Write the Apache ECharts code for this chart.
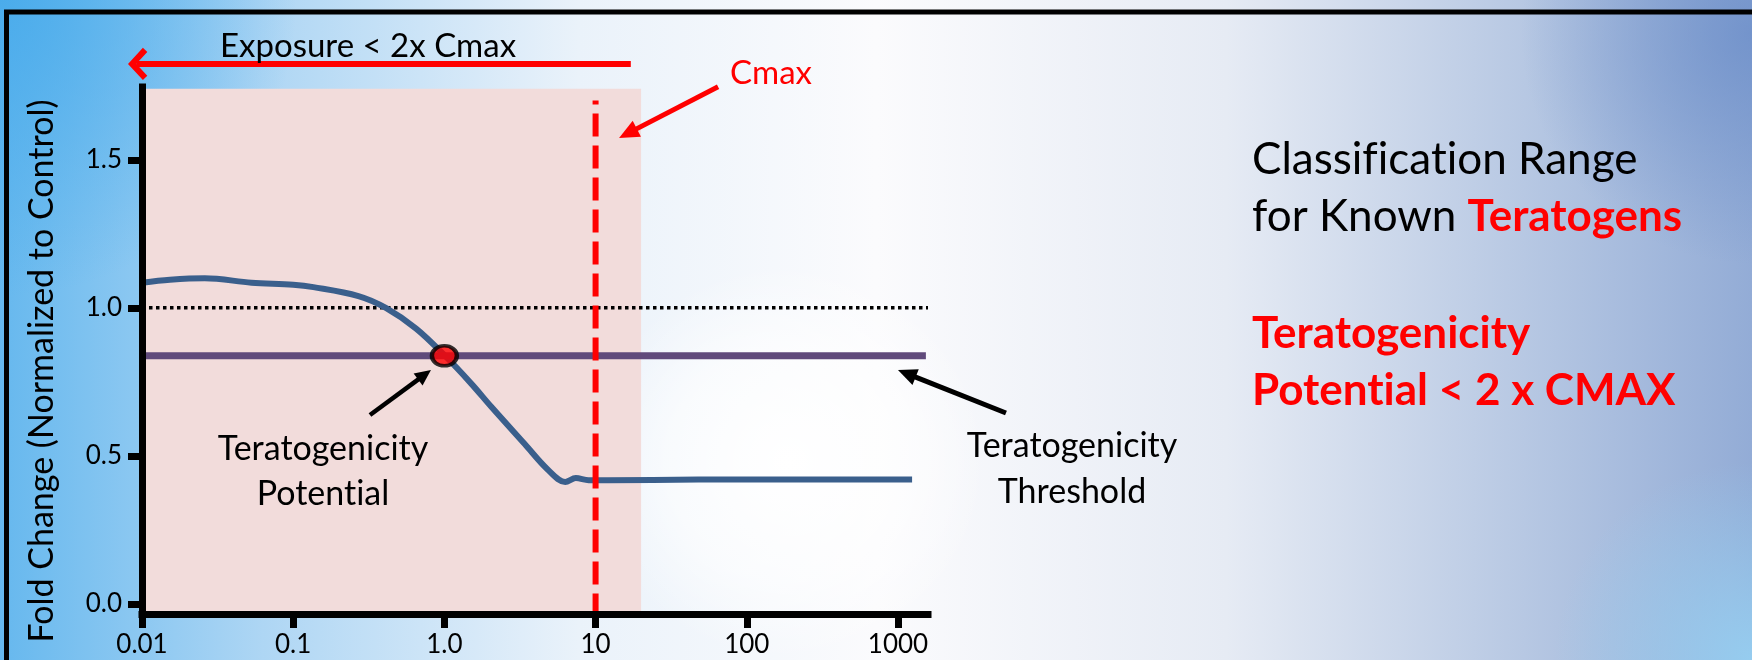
<!DOCTYPE html>
<html><head><meta charset="utf-8">
<script src="https://cdn.jsdelivr.net/npm/echarts@6/dist/echarts.min.js"></script>
<style>html,body{margin:0;padding:0;width:1752px;height:660px;overflow:hidden}#c{width:1752px;height:660px}</style>
</head><body><div id="c"></div>
<script>
// ---- data ----
const xTickValues = [0.01, 0.1, 1, 10, 100, 1000];
const xTickLabels = ['0.01', '0.1', '1.0', '10', '100', '1000'];
const yTickValues = [0, 0.5, 1.0, 1.5];
const yTickLabels = ['0.0', '0.5', '1.0', '1.5'];
const curveX = [0.01, 0.0153, 0.026, 0.053, 0.1, 0.136, 0.27, 0.41, 0.65, 1.0, 1.5, 2.05, 3.4, 4.8, 6.3, 7.4, 9.0, 12, 48, 1240];
const curveY = [1.085, 1.095, 1.10, 1.085, 1.078, 1.07, 1.04, 1.0, 0.93, 0.84, 0.745, 0.665, 0.54, 0.455, 0.412, 0.425, 0.418, 0.418, 0.42, 0.42];
const controlLevel = 1.0;
const controlExtentX = [0.01, 1580];
const thresholdLevel = 0.838;
const thresholdExtentX = [0.01, 1530];
const cmaxValue = 10;
const cmaxLineTop = 1.70;
const exposureLimit = 20;
const shadeTop = 1.74;
const potentialPoint = [1.0, 0.838];
const exposureArrow = [[17.1, 1.824], [0.0086, 1.824]];
const cmaxArrow = [[64.6, 1.747], [14.3, 1.574]];
const potentialArrow = [[0.322, 0.638], [0.815, 0.79]];
const thresholdArrow = [[5180, 0.645], [1000, 0.79]];
const yMin = -0.034, yMax = 1.746, xMin = 0.01, xMax = 1580;

// avoid "ti"/"fi" ligatures of the substitute font
(function () {
  const P = CanvasRenderingContext2D.prototype, ft = P.fillText;
  P.fillText = function () {
    try { this.textRendering = 'optimizeSpeed'; } catch (e) {}
    return ft.apply(this, arguments);
  };
})();

const FONT = 'Lato';
function nearestLabel(v, vals, labels) {
  let best = 0, bd = Infinity;
  vals.forEach((t, i) => { const d = Math.abs(Math.log10(t) - Math.log10(Math.abs(v) + 1e-12)); if (d < bd) { bd = d; best = i; } });
  return labels[best];
}
const T = (txt, x, y, font, fill, align) => ({type: 'text', silent: true, z: 50, x: x, y: y,
  style: {text: txt, font: font, fill: fill, align: align || 'center', verticalAlign: 'middle'}});

const chart = echarts.init(document.getElementById('c'), null, {renderer: 'canvas'});

chart.setOption({
  animation: false,
  graphic: [
    {type: 'rect', z: -100, silent: true, shape: {x: 0, y: 0, width: 1752, height: 660},
      style: {fill: new echarts.graphic.LinearGradient(0, 0, 1, 0, [
        {offset: 0, color: '#66b8ee'}, {offset: 0.15, color: '#aed6f4'}, {offset: 0.33, color: '#eaf2fa'},
        {offset: 0.5, color: '#fbfbfd'}, {offset: 0.7, color: '#e6ebf4'}, {offset: 0.87, color: '#b7c8e3'}, {offset: 1, color: '#93acd6'}])}},
    {type: 'rect', z: -99, silent: true, shape: {x: 0, y: 0, width: 1752, height: 660},
      style: {fill: new echarts.graphic.RadialGradient(0, 0, 0.45, [
        {offset: 0, color: 'rgba(70,170,235,0.85)'}, {offset: 1, color: 'rgba(70,170,235,0)'}])}},
    {type: 'rect', z: -99, silent: true, shape: {x: 0, y: 0, width: 1752, height: 660},
      style: {fill: new echarts.graphic.RadialGradient(1, 0.05, 0.35, [
        {offset: 0, color: 'rgba(105,140,200,0.75)'}, {offset: 1, color: 'rgba(105,140,200,0)'}])}},
    {type: 'rect', z: -99, silent: true, shape: {x: 0, y: 0, width: 1752, height: 660},
      style: {fill: new echarts.graphic.RadialGradient(1, 1, 0.3, [
        {offset: 0, color: 'rgba(150,208,242,0.9)'}, {offset: 1, color: 'rgba(150,208,242,0)'}])}},
    {type: 'rect', z: -98, silent: true, shape: {x: 0, y: 0, width: 1752, height: 660},
      style: {fill: new echarts.graphic.RadialGradient(0.45, 0.7, 0.3, [
        {offset: 0, color: 'rgba(255,255,255,1)'}, {offset: 0.6, color: 'rgba(255,255,255,0.6)'}, {offset: 1, color: 'rgba(255,255,255,0)'}])}},
    {type: 'rect', z: -90, silent: true, shape: {x: 6.5, y: 12, width: 1800, height: 800},
      style: {fill: 'none', stroke: '#000', lineWidth: 5}},
    Object.assign(T('Fold Change (Normalized to Control)', 42, 371, '34px ' + FONT, '#000'), {rotation: Math.PI / 2}),
    T('Exposure < 2x Cmax', 368, 46, '33px ' + FONT, '#000'),
    T('Cmax', 771, 73, '33px ' + FONT, '#ff0000'),
    T('Teratogenicity', 323, 449, '34px ' + FONT, '#000'),
    T('Potential', 323, 494, '34px ' + FONT, '#000'),
    T('Teratogenicity', 1072, 446, '34px ' + FONT, '#000'),
    T('Threshold', 1072, 492, '34px ' + FONT, '#000'),
    T('Classification Range', 1252, 160, '44px ' + FONT, '#000', 'left'),
    {type: 'text', silent: true, z: 50, x: 1252, y: 217,
      style: {text: '{a|for Known }{b|Teratogens}', align: 'left', verticalAlign: 'middle',
        rich: {a: {fontFamily: FONT, fontSize: 44, fill: '#000'}, b: {fontFamily: FONT, fontSize: 44, fontWeight: 'bold', fill: '#ff0000'}}}},
    T('Teratogenicity', 1252, 334, 'bold 44px ' + FONT, '#ff0000', 'left'),
    T('Potential < 2 x CMAX', 1252, 391, 'bold 44px ' + FONT, '#ff0000', 'left')
  ],
  grid: {left: 142, top: 87, width: 786, height: 527, containLabel: false},
  xAxis: {
    type: 'log', logBase: 10, min: xMin, max: xMax, z: 10,
    axisLine: {show: true, onZero: false, lineStyle: {color: '#000', width: 7, cap: 'square'}},
    axisTick: {show: true, length: 14, customValues: xTickValues, lineStyle: {color: '#000', width: 7}},
    axisLabel: {show: true, margin: 18, customValues: xTickValues, fontFamily: FONT, fontSize: 26, color: '#000',
      formatter: v => nearestLabel(v, xTickValues, xTickLabels)},
    splitLine: {show: false}, minorTick: {show: false}
  },
  yAxis: {
    type: 'value', min: yMin, max: yMax, z: 10,
    axisLine: {show: true, onZero: false, lineStyle: {color: '#000', width: 7, cap: 'square'}},
    axisTick: {show: true, length: 14, customValues: yTickValues, lineStyle: {color: '#000', width: 7}},
    axisLabel: {show: true, margin: 20, customValues: yTickValues, fontFamily: FONT, fontSize: 26, color: '#000',
      formatter: v => { const i = yTickValues.findIndex(t => Math.abs(t - v) < 1e-6); return i >= 0 ? yTickLabels[i] : v.toFixed(1); }},
    splitLine: {show: false}
  },
  series: [
    {type: 'line', z: 1, data: [], silent: true,
      markArea: {silent: true, itemStyle: {color: '#f2dcdb'},
        data: [[{coord: [xMin, shadeTop]}, {coord: [exposureLimit, yMin]}]]}},
    {type: 'line', z: 3, silent: true, showSymbol: false, data: [[controlExtentX[0], controlLevel], [controlExtentX[1], controlLevel]],
      lineStyle: {color: '#000', width: 3.5, type: [3.5, 3.5]}},
    {type: 'line', z: 4, silent: true, showSymbol: false, smooth: 0.35,
      data: curveX.map((x, i) => [x, curveY[i]]),
      lineStyle: {color: '#3a5f8c', width: 6}},
    {type: 'line', z: 5, silent: true, showSymbol: false, data: [[thresholdExtentX[0], thresholdLevel], [thresholdExtentX[1], thresholdLevel]],
      lineStyle: {color: '#604a7b', width: 7}},
    {type: 'line', z: 6, silent: true, showSymbol: false, clip: false, data: [[cmaxValue, cmaxLineTop], [cmaxValue, yMin]],
      lineStyle: {color: '#ff0000', width: 6, type: [23, 9], dashOffset: 19}},
    {type: 'scatter', z: 7, silent: true, data: [potentialPoint], symbol: 'circle', symbolSize: [25, 20],
      itemStyle: {color: '#ff0000', borderColor: '#000', borderWidth: 4}}
  ]
});

// annotation arrows, placed through the chart's own axes
const zr = chart.getZr();
function px(p) { return chart.convertToPixel({xAxisIndex: 0, yAxisIndex: 0}, p); }
function addArrow(pts, color, width, headLen, headW, open) {
  const a = px(pts[0]), b = px(pts[1]);
  const dx = b[0] - a[0], dy = b[1] - a[1], L = Math.hypot(dx, dy);
  const ux = dx / L, uy = dy / L, nx = -uy, ny = ux;
  const base = [b[0] - ux * headLen, b[1] - uy * headLen];
  const p1 = [base[0] + nx * headW / 2, base[1] + ny * headW / 2];
  const p2 = [base[0] - nx * headW / 2, base[1] - ny * headW / 2];
  const end = open ? [b[0] - ux * width * 0.7, b[1] - uy * width * 0.7] : [base[0] + ux * 2, base[1] + uy * 2];
  zr.add(new echarts.graphic.Line({z: 40, silent: true, shape: {x1: a[0], y1: a[1], x2: end[0], y2: end[1]},
    style: {stroke: color, lineWidth: width}}));
  if (open) {
    zr.add(new echarts.graphic.Polyline({z: 40, silent: true, shape: {points: [p1, b, p2]},
      style: {stroke: color, lineWidth: width, fill: null, lineJoin: 'miter'}}));
  } else {
    zr.add(new echarts.graphic.Polygon({z: 40, silent: true, shape: {points: [b, p1, p2]},
      style: {fill: color}}));
  }
}
addArrow(exposureArrow, '#ff0000', 6, 13, 28, true);
addArrow(cmaxArrow, '#ff0000', 5, 20, 18, false);
addArrow(potentialArrow, '#000', 4.5, 16, 15, false);
addArrow(thresholdArrow, '#000', 5, 19, 17, false);
</script></body></html>
